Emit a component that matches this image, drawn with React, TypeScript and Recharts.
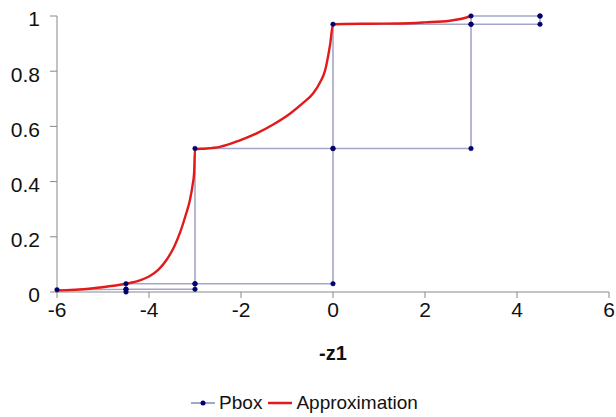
import React from "react";
import { LineChart, Line, XAxis, YAxis, Legend } from "recharts";

// p-box bounds (step functions) and the smooth approximation of -z1
const pboxUpper = [
  { x: -6, y: 0.008 }, { x: -4.5, y: 0.01 }, { x: -4.5, y: 0.03 }, { x: -3, y: 0.03 },
  { x: -3, y: 0.52 }, { x: 0, y: 0.52 }, { x: 0, y: 0.97 }, { x: 3, y: 0.97 },
  { x: 3, y: 1 }, { x: 4.5, y: 1 },
];
const pboxLower = [
  { x: -4.5, y: 0.0 }, { x: -4.5, y: 0.01 }, { x: -3, y: 0.01 }, { x: -3, y: 0.03 },
  { x: 0, y: 0.03 }, { x: 0, y: 0.52 }, { x: 3, y: 0.52 }, { x: 3, y: 0.97 },
  { x: 4.5, y: 0.97 }, { x: 4.5, y: 1 },
];
const approximation = [
  { x: -6, y: 0.005 }, { x: -5.3, y: 0.012 }, { x: -4.9, y: 0.02 }, { x: -4.5, y: 0.03 },
  { x: -4.2, y: 0.042 }, { x: -4.0, y: 0.056 }, { x: -3.8, y: 0.08 }, { x: -3.62, y: 0.116 },
  { x: -3.45, y: 0.165 }, { x: -3.33, y: 0.213 }, { x: -3.2, y: 0.28 }, { x: -3.11, y: 0.333 },
  { x: -3.05, y: 0.39 }, { x: -3.02, y: 0.43 }, { x: -3.0, y: 0.518 }, { x: -2.75, y: 0.52 },
  { x: -2.46, y: 0.526 }, { x: -2.05, y: 0.548 }, { x: -1.66, y: 0.575 }, { x: -1.3, y: 0.607 },
  { x: -0.93, y: 0.647 }, { x: -0.65, y: 0.685 }, { x: -0.43, y: 0.72 }, { x: -0.28, y: 0.76 },
  { x: -0.17, y: 0.804 }, { x: -0.1, y: 0.86 }, { x: -0.06, y: 0.9 }, { x: 0, y: 0.97 },
  { x: 0.8, y: 0.972 }, { x: 1.46, y: 0.973 }, { x: 2.0, y: 0.977 }, { x: 2.54, y: 0.983 },
  { x: 2.8, y: 0.99 }, { x: 3.0, y: 1.0 },
];
const xTicks = [-6, -4, -2, 0, 2, 4, 6];
const yTicks = [0, 0.2, 0.4, 0.6, 0.8, 1];

const FONT = '"Liberation Sans", Arial, sans-serif';
const BOX_LINE = "#a3a6c8";
const BOX_DOT = "#00006e";
const RED = "#e31a1a";

function LegendContent() {
  return (
    <div style={{ display: "flex", justifyContent: "center", alignItems: "center", fontFamily: FONT, fontSize: 19, color: "#111" }}>
      <svg width={24} height={10} style={{ marginRight: 4 }}>
        <line x1={0} y1={5} x2={24} y2={5} stroke={BOX_LINE} strokeWidth={2} />
        <circle cx={12} cy={5} r={2.5} fill={BOX_DOT} />
      </svg>
      <span style={{ marginRight: 6 }}>Pbox</span>
      <svg width={24} height={10} style={{ marginRight: 4 }}>
        <line x1={0} y1={5} x2={24} y2={5} stroke={RED} strokeWidth={2.5} />
      </svg>
      <span>Approximation</span>
    </div>
  );
}

const dot = { r: 2.3, fill: BOX_DOT, stroke: BOX_DOT, strokeWidth: 0.5 };

export default function App() {
  return (
    <div style={{ width: 616, height: 417, background: "#fff" }}>
      <style>{`body{margin:0}`}</style>
      <LineChart width={616} height={417} margin={{ top: 16, right: 7, left: 0, bottom: 1 }}>
        <XAxis
          type="number" dataKey="x" domain={[-6, 6]} ticks={xTicks} allowDuplicatedCategory={false}
          height={100} tickSize={6} tickMargin={4} stroke="#888"
          tick={{ fill: "#111", fontSize: 21, fontFamily: FONT }}
          label={{ value: "-z1", position: "insideBottom", offset: 32, fill: "#111", fontSize: 20, fontWeight: "bold", fontFamily: FONT }}
        />
        <YAxis
          type="number" domain={[0, 1]} ticks={yTicks} width={57} tickSize={7} tickMargin={10}
          stroke="#888" tick={{ fill: "#111", fontSize: 21, fontFamily: FONT, dy: 3 }}
        />
        <Legend verticalAlign="bottom" height={24} content={<LegendContent />} />
        <Line data={pboxUpper} dataKey="y" type="linear" stroke={BOX_LINE} strokeWidth={1.6} dot={dot} activeDot={false} isAnimationActive={false} legendType="none" />
        <Line data={pboxLower} dataKey="y" type="linear" stroke={BOX_LINE} strokeWidth={1.6} dot={dot} activeDot={false} isAnimationActive={false} legendType="none" />
        <Line data={approximation} dataKey="y" type="monotone" stroke={RED} strokeWidth={2.4} dot={false} activeDot={false} isAnimationActive={false} />
      </LineChart>
    </div>
  );
}
